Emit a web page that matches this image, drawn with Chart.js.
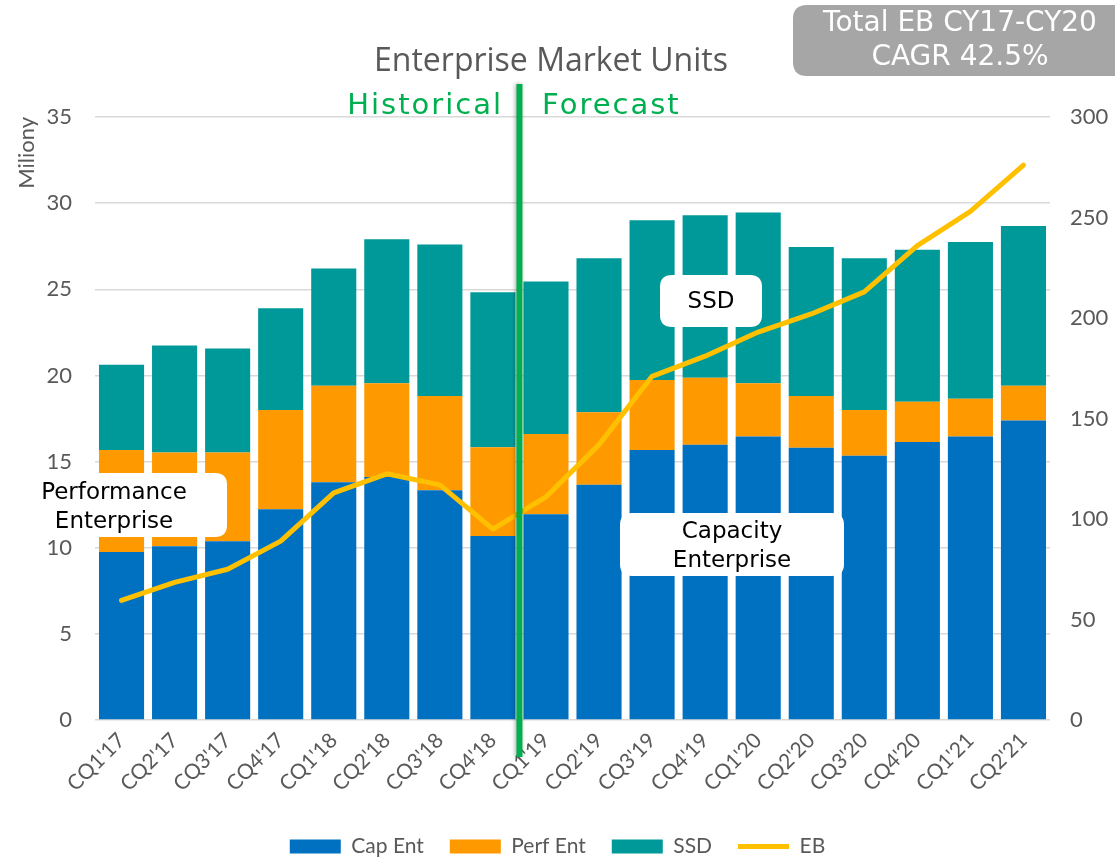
<!DOCTYPE html>
<html>
<head>
<meta charset="utf-8">
<script src="https://cdn.jsdelivr.net/npm/chart.js@4.4.1/dist/chart.umd.min.js"></script>
<style>
html,body{margin:0;padding:0;background:#fff;}
#wrap{position:relative;width:1115px;height:859px;}
</style>
</head>
<body>
<div id="wrap"><canvas id="c" width="1115" height="859"></canvas></div>
<script>
const categories = ["CQ1'17","CQ2'17","CQ3'17","CQ4'17","CQ1'18","CQ2'18","CQ3'18","CQ4'18","CQ1'19","CQ2'19","CQ3'19","CQ4'19","CQ1'20","CQ2'20","CQ3'20","CQ4'20","CQ1'21","CQ2'21"];
const capEnt  = [9.75, 10.08, 10.37, 12.23, 13.8, 14.1, 13.34, 10.68, 11.94, 13.65, 15.67, 15.98, 16.45, 15.8, 15.34, 16.14, 16.45, 17.38];
const perfEnt = [5.92, 5.45, 5.16, 5.77, 5.6, 5.45, 5.46, 5.15, 4.66, 4.21, 4.06, 3.88, 3.1, 3.0, 2.66, 2.33, 2.19, 2.02];
const ssd     = [4.95, 6.2, 6.04, 5.9, 6.8, 8.35, 8.8, 9.0, 8.85, 8.94, 9.27, 9.44, 9.9, 8.65, 8.8, 8.83, 9.11, 9.28];
const eb      = [59.5, 68.5, 75, 89, 113, 122.5, 117, 95, 111, 137, 171, 181, 193, 202, 213, 236, 253, 276];
const leftTicks = [0, 5, 10, 15, 20, 25, 30, 35];
const rightTicks = [0, 50, 100, 150, 200, 250, 300];

const GREY = '#595959';

function roundRect(ctx, x, y, w, h, r, fill) {
  ctx.beginPath();
  ctx.moveTo(x + r, y);
  ctx.lineTo(x + w - r, y);
  ctx.quadraticCurveTo(x + w, y, x + w, y + r);
  ctx.lineTo(x + w, y + h - r);
  ctx.quadraticCurveTo(x + w, y + h, x + w - r, y + h);
  ctx.lineTo(x + r, y + h);
  ctx.quadraticCurveTo(x, y + h, x, y + h - r);
  ctx.lineTo(x, y + r);
  ctx.quadraticCurveTo(x, y, x + r, y);
  ctx.closePath();
  ctx.fillStyle = fill;
  ctx.fill();
}

const annot = {
  id: 'annot',
  afterDraw(chart) {
    const ctx = chart.ctx;
    const xs = chart.scales.x;
    ctx.save();
    // label boxes
    roundRect(ctx, 26, 473, 201, 64, 12, '#ffffff');
    roundRect(ctx, 660, 275, 102, 52, 12, '#ffffff');
    roundRect(ctx, 620, 513, 224, 63, 12, '#ffffff');
    ctx.fillStyle = '#000000';
    ctx.font = '23px "DejaVu Sans"';
    ctx.textAlign = 'center';
    ctx.textBaseline = 'middle';
    ctx.fillText('Performance', 114, 493);
    ctx.fillText('Enterprise', 114, 522);
    ctx.fillText('SSD', 711, 302);
    ctx.fillText('Capacity', 732, 532);
    ctx.fillText('Enterprise', 732, 561);

    // divider line between historical and forecast
    const xd = (xs.getPixelForValue(7) + xs.getPixelForValue(8)) / 2;
    ctx.save();
    ctx.shadowColor = 'rgba(0,0,0,0.35)';
    ctx.shadowBlur = 4;
    ctx.shadowOffsetX = -1;
    ctx.fillStyle = '#00B050';
    ctx.fillRect(xd - 3, 84, 6, 673);
    ctx.restore();

    // title
    ctx.fillStyle = GREY;
    ctx.font = '32px "Open Sans"';
    ctx.textAlign = 'center';
    ctx.fillText('Enterprise Market Units', 551, 62);

    // historical / forecast
    ctx.fillStyle = '#00B050';
    ctx.font = '29px "DejaVu Sans"';
    ctx.letterSpacing = '2px';
    ctx.textAlign = 'right';
    ctx.fillText('Historical', 503, 106);
    ctx.textAlign = 'left';
    ctx.fillText('Forecast', 542, 106);
    ctx.letterSpacing = '0px';

    // CAGR box
    roundRect(ctx, 793, 5, 345, 71, 14, '#A6A6A6');
    ctx.fillStyle = '#ffffff';
    ctx.font = '28px "DejaVu Sans"';
    ctx.textAlign = 'center';
    ctx.fillText('Total EB CY17-CY20', 960, 24);
    ctx.fillText('CAGR 42.5%', 960, 58);
    ctx.restore();
  }
};

const chart = new Chart(document.getElementById('c'), {
  type: 'bar',
  data: {
    labels: categories,
    datasets: [
      { label: 'Cap Ent', data: capEnt, backgroundColor: '#0070C0', borderWidth: 0, yAxisID: 'y', order: 1, pointStyle: 'rect', barPercentage: 0.85, categoryPercentage: 1.0 },
      { label: 'Perf Ent', data: perfEnt, backgroundColor: '#FF9900', borderWidth: 0, yAxisID: 'y', order: 1, pointStyle: 'rect', barPercentage: 0.85, categoryPercentage: 1.0 },
      { label: 'SSD', data: ssd, backgroundColor: '#009999', borderWidth: 0, yAxisID: 'y', order: 1, pointStyle: 'rect', barPercentage: 0.85, categoryPercentage: 1.0 },
      { label: 'EB', type: 'line', data: eb, borderColor: '#FFC000', backgroundColor: '#FFC000', borderWidth: 5, borderCapStyle: 'round', borderJoinStyle: 'round', pointRadius: 0, tension: 0, yAxisID: 'y1', order: 0, pointStyle: 'line' }
    ]
  },
  options: {
    responsive: false,
    animation: false,
    layout: { padding: { top: 117, left: 0, right: 0, bottom: -8 } },
    plugins: {
      legend: {
        position: 'bottom',
        labels: {
          usePointStyle: true,
          pointStyleWidth: 51,
          boxHeight: 14,
          padding: 26,
          color: GREY,
          font: { family: 'Lato', size: 21 },
          sort: (a, b) => a.datasetIndex - b.datasetIndex
        }
      },
      tooltip: { enabled: false }
    },
    scales: {
      x: {
        stacked: true,
        grid: { display: false, drawTicks: false },
        border: { display: false },
        ticks: { color: GREY, font: { family: 'Lato', size: 21 }, maxRotation: 45, minRotation: 45, autoSkip: false, padding: 8 },
        afterFit: (s) => { s.height = 90; }
      },
      y: {
        stacked: true,
        position: 'left',
        min: 0, max: 35,
        afterBuildTicks: (s) => { s.ticks = leftTicks.map(v => ({ value: v })); },
        grid: { color: '#D9D9D9', lineWidth: 1.5, drawTicks: false },
        border: { display: false },
        ticks: { color: GREY, font: { family: 'Lato', size: 22 }, padding: 23 },
        title: { display: true, text: 'Miliony', align: 'end', color: GREY, font: { family: 'Lato', size: 22 }, padding: { top: 14, bottom: 0 } },
        afterFit: (s) => { s.width = 95; }
      },
      y1: {
        position: 'right',
        min: 0, max: 300,
        afterBuildTicks: (s) => { s.ticks = rightTicks.map(v => ({ value: v })); },
        grid: { display: false, drawTicks: false },
        border: { display: false },
        ticks: { color: GREY, font: { family: 'Lato', size: 22 }, padding: 20 },
        afterFit: (s) => { s.width = 65; }
      }
    }
  },
  plugins: [annot]
});
</script>
</body>
</html>
